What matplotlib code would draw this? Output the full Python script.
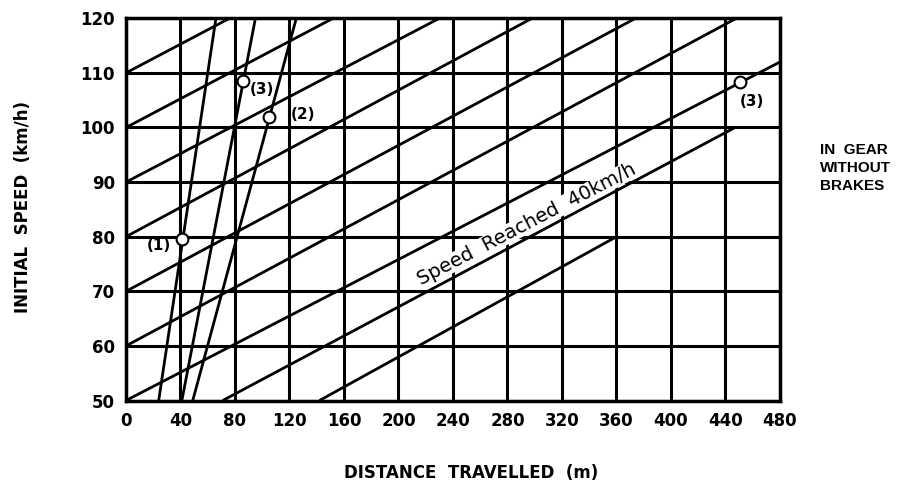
import matplotlib.pyplot as plt

# gridded chart: distance travelled vs initial speed (in gear, no brakes)
x_ticks = [0, 40, 80, 120, 160, 200, 240, 280, 320, 360, 400, 440, 480]
y_ticks = [50, 60, 70, 80, 90, 100, 110, 120]

# parallel "speed reached" lines, start and end points
diag_x0 = [0, 0, 0, 0, 0, 0, 0, 71, 142]
diag_y0 = [110, 100, 90, 80, 70, 60, 50, 50, 50]
diag_x1 = [76, 152, 230, 298, 374, 448, 480, 447, 360]
diag_y1 = [120, 120, 120, 120, 120, 120, 112, 100, 80]

# steep lines
steep_x0 = [24, 41, 49]
steep_y0 = [50, 50, 50]
steep_x1 = [66, 95, 125]
steep_y1 = [120, 120, 120]

# marked points
pt_x = [41, 86, 105, 451]
pt_y = [79.5, 108.5, 102, 108.3]
pt_lab = ['(1)', '(3)', '(2)', '(3)']
pt_off = [(-11, -6), (7, -8), (22, 2), (11, -19)]   # pixels
pt_ha = ['right', 'left', 'left', 'center']

fig = plt.figure(figsize=(9.11, 4.93), dpi=100)
ax = fig.add_axes([0.1383, 0.1876, 0.7179, 0.7753])

lw = 2.2
for xv in x_ticks:
    ax.axvline(xv, color='black', lw=lw, zorder=1)
for yv in y_ticks:
    ax.axhline(yv, color='black', lw=lw, zorder=1)

for i in range(len(diag_x0)):
    ax.plot([diag_x0[i], diag_x1[i]], [diag_y0[i], diag_y1[i]], color='black', lw=2, zorder=3,
            solid_capstyle='butt')
for i in range(len(steep_x0)):
    ax.plot([steep_x0[i], steep_x1[i]], [steep_y0[i], steep_y1[i]], color='black', lw=2, zorder=3,
            solid_capstyle='butt')

ax.plot(pt_x, pt_y, 'o', ms=8.5, mfc='white', mec='black', mew=1.5, zorder=5)
for i in range(len(pt_x)):
    ax.annotate(pt_lab[i], (pt_x[i], pt_y[i]), xytext=pt_off[i], textcoords='offset pixels',
                ha=pt_ha[i], va='center', fontsize=11, fontweight='bold', zorder=6)

# label along the lines
ax.text(294, 82.3, 'Speed  Reached  40km/h', rotation=27.5, rotation_mode='anchor',
        ha='center', va='center', fontsize=14, zorder=2,
        bbox=dict(facecolor='white', edgecolor='none', pad=0))

ax.set_xlim(0, 480)
ax.set_ylim(50, 120)
ax.set_xticks(x_ticks)
ax.set_yticks(y_ticks)
ax.tick_params(length=0, labelsize=12, pad=8)
for lab in ax.get_xticklabels() + ax.get_yticklabels():
    lab.set_fontweight('bold')
for s in ax.spines.values():
    s.set_linewidth(2.5)

fig.text(0.517, 0.04, 'DISTANCE  TRAVELLED  (m)', ha='center', va='center',
         fontsize=12, fontweight='bold')
fig.text(0.025, 0.58, 'INITIAL  SPEED  (km/h)', ha='center', va='center',
         rotation=90, fontsize=12, fontweight='bold')
fig.text(0.900, 0.659, 'IN  GEAR\nWITHOUT\nBRAKES', ha='left', va='center',
         fontsize=11, fontweight='bold', linespacing=1.35,
         family=['Liberation Sans', 'DejaVu Sans'])

fig.savefig('out.png', dpi=100)
